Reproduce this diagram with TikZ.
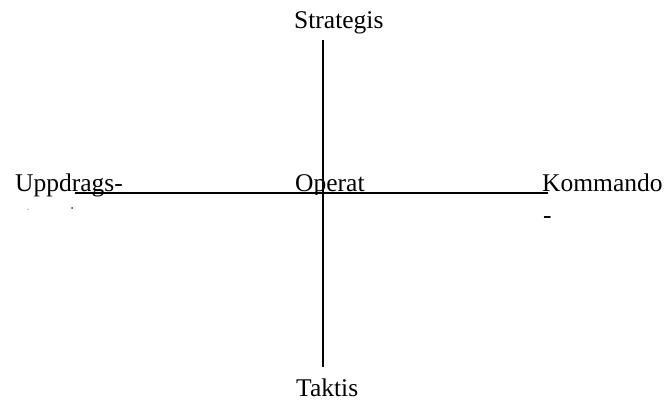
\documentclass[tikz,border=0pt]{standalone}
\usepackage{fontspec}
\setmainfont{Liberation Serif}
\usetikzlibrary{positioning}
\tikzset{
  % plain label, placed by its baseline
  lbl/.style  = {anchor=base west, inner sep=0pt,
                 font=\fontsize{25.5}{31}\selectfont},
  axis/.style = {line width=2pt, black},
  speck/.style = {circle, fill=#1, inner sep=0pt, minimum size=2pt},
  speck/.default = black,
}

\begin{document}
\begin{tikzpicture}[x=1pt, y=-1pt]
\useasboundingbox (0,0) rectangle (666,403);

% --- axis ends ---------------------------------------------------------
\coordinate (ntop) at (323.3,40);
\coordinate (nbot) at (323.3,366.7);
\coordinate (wend) at (75,193.5);
\coordinate (eend) at (548,193.5);

% --- labels --------------------------------------------------------------
\node[lbl] (strat) at (294,29)  {Strategis};
\node[lbl] (takt)  at (296,396) {Taktis};
\node[lbl] (uppd)  at (15,192)  {Uppdrags-};
\node[lbl] (komm)  at (542,192) {Kommando};
\node[lbl] (kommb) at (543,224) {-};
\begin{scope}
  \clip (285,150) rectangle (420,195);
  \node[lbl] (oper) at (295,192) {Operat};
\end{scope}
\node[speck=black!80]  (dota) at (72,208) {};
\node[speck=black!25]  (dotb) at (28,209.5) {};

% --- axes ----------------------------------------------------------------
\draw[axis] (ntop) -- (nbot);
\draw[axis] (wend) -- (eend);
\end{tikzpicture}
\end{document}
